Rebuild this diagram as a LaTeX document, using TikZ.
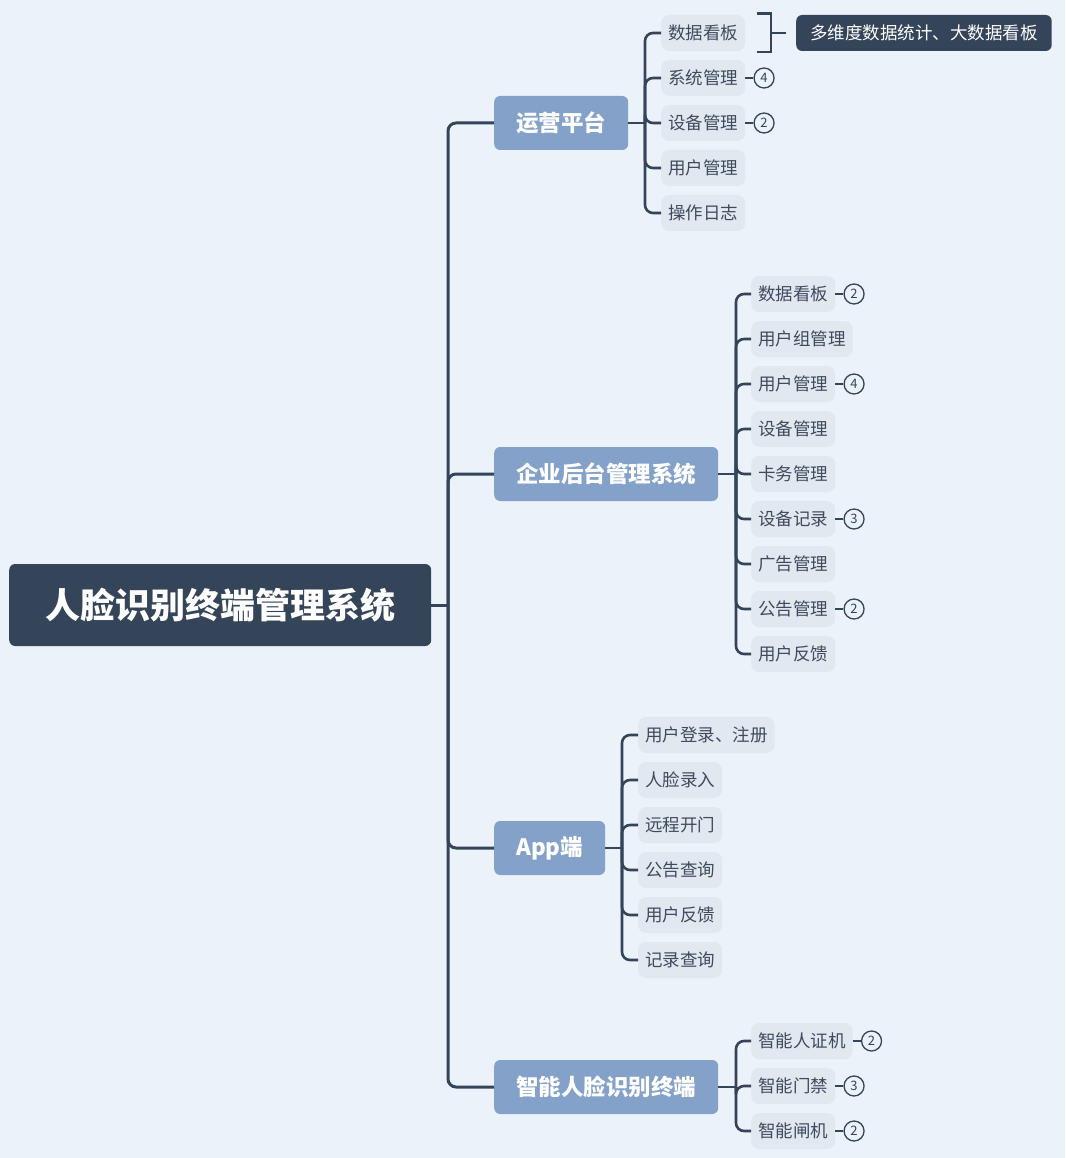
\documentclass[tikz,border=0pt]{standalone}
\usepackage{fontspec}
\setmainfont{Noto Sans CJK SC}
\usetikzlibrary{positioning}
\definecolor{bgc}{RGB}{235,242,250}
\definecolor{dark}{RGB}{52,68,89}
\definecolor{lvone}{RGB}{132,161,201}
\definecolor{leaffill}{RGB}{225,232,240}
\definecolor{leaftext}{RGB}{63,75,92}
\begin{document}
\begin{tikzpicture}[x=1pt,y=-1pt,
  rootbox/.style={fill=dark, rounded corners=6pt, text=white, font=\fontsize{35}{38}\selectfont\bfseries, inner xsep=0pt, inner ysep=0pt, minimum width=422pt, minimum height=82pt, anchor=west},
  lvbox/.style={fill=lvone, rounded corners=6pt, text=white, font=\fontsize{22.5}{24}\selectfont\bfseries, inner xsep=22pt, inner ysep=0pt, minimum height=54pt, anchor=west},
  leaf/.style={fill=leaffill, rounded corners=8pt, text=leaftext, font=\fontsize{17.5}{19}\selectfont, inner xsep=7pt, inner ysep=0pt, minimum height=36pt, anchor=west},
  note/.style={fill=dark, rounded corners=6pt, text=white, font=\fontsize{17.5}{19}\selectfont, inner xsep=14pt, inner ysep=0pt, minimum height=36pt, anchor=west},
  num/.style={circle, draw=dark, line width=1.3pt, inner sep=0pt, minimum size=20pt, font=\fontsize{13}{13}\selectfont, text=dark},
  mainconn/.style={draw=dark, line width=3pt, rounded corners=8pt},
  conn/.style={draw=dark, line width=2.6pt, rounded corners=8pt},
  stub/.style={draw=dark, line width=1.8pt}
]
\fill[bgc] (0,0) rectangle (1065,1158);

% root and level 1
\node[rootbox] (root) at (9,605) {人脸识别终端管理系统};
\node[lvbox] (A) at (494,123) {运营平台};
\node[lvbox] (B) at (494,474) {企业后台管理系统};
\node[lvbox] (C) at (494,848) {App端};
\node[lvbox] (D) at (494,1087) {智能人脸识别终端};

\coordinate (rt) at (448,605);
\draw[mainconn] (root.east) -- (rt);
\foreach \p in {A,B,C,D} \draw[mainconn] (rt) |- (\p.west);

% group A
\node[leaf] (a1) at (661,33) {数据看板};
\node[leaf] (a2) at (661,78) {系统管理};
\node[leaf] (a3) at (661,123) {设备管理};
\node[leaf] (a4) at (661,168) {用户管理};
\node[leaf] (a5) at (661,213) {操作日志};
\coordinate (at) at (645,123);
\draw[conn] (A.east) -- (at);
\foreach \c in {a1,a2,a3,a4,a5} \draw[conn] (at) |- (\c.west);

% callout
\node[note] (callout) at (796,33) {多维度数据统计、大数据看板};
\coordinate (bt) at (771,33);
\draw[conn, rounded corners=0pt] ([xshift=12pt,yshift=1pt]a1.north east) -| (bt) |- ([xshift=12pt,yshift=-1pt]a1.south east);
\draw[conn] (bt) -- ([xshift=-10pt]callout.west);

% group B
\node[leaf] (b1) at (751,294) {数据看板};
\node[leaf] (b2) at (751,339) {用户组管理};
\node[leaf] (b3) at (751,384) {用户管理};
\node[leaf] (b4) at (751,429) {设备管理};
\node[leaf] (b5) at (751,474) {卡务管理};
\node[leaf] (b6) at (751,519) {设备记录};
\node[leaf] (b7) at (751,564) {广告管理};
\node[leaf] (b8) at (751,609) {公告管理};
\node[leaf] (b9) at (751,654) {用户反馈};
\coordinate (btk) at (736,474);
\draw[conn] (B.east) -- (btk);
\foreach \c in {b1,b2,b3,b4,b5,b6,b7,b8,b9} \draw[conn] (btk) |- (\c.west);

% group C
\node[leaf] (c1) at (638,735) {用户登录、注册};
\node[leaf] (c2) at (638,780) {人脸录入};
\node[leaf] (c3) at (638,825) {远程开门};
\node[leaf] (c4) at (638,870) {公告查询};
\node[leaf] (c5) at (638,915) {用户反馈};
\node[leaf] (c6) at (638,960) {记录查询};
\coordinate (ct) at (622,848);
\draw[conn] (C.east) -- (ct);
\foreach \c in {c1,c2,c3,c4,c5,c6} \draw[conn] (ct) |- (\c.west);

% group D
\node[leaf] (d1) at (751,1041) {智能人证机};
\node[leaf] (d2) at (751,1086) {智能门禁};
\node[leaf] (d3) at (751,1131) {智能闸机};
\coordinate (dt) at (736,1087);
\draw[conn] (D.east) -- (dt);
\foreach \c in {d1,d2,d3} \draw[conn] (dt) |- (\c.west);

% circled numbers
\foreach \n/\t in {a2/4, a3/2, b1/2, b3/4, b6/3, b8/2, d1/2, d2/3, d3/2} {
  \node[num, right=8pt of \n] (k\n) {\t};
  \draw[stub] (\n.east) -- (k\n.west);
}
\end{tikzpicture}
\end{document}
